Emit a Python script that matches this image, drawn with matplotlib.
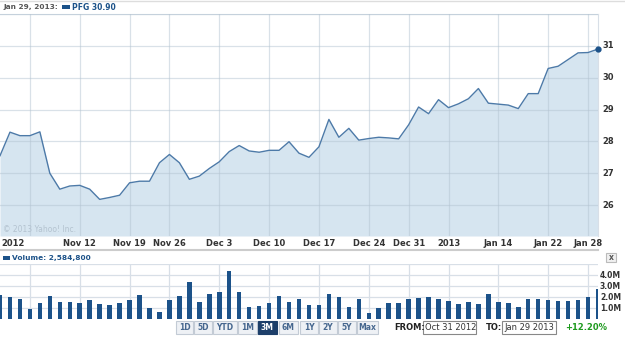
import numpy as np
import matplotlib

matplotlib.use("Agg")
import matplotlib.pyplot as plt
from matplotlib.patches import Rectangle

W, H = 625, 337

# trading days Oct 31 2012 .. Jan 29 2013 (index = trading day)
close = [27.55, 28.29, 28.18, 28.18, 28.30, 27.00, 26.50, 26.60, 26.62, 26.50,
         26.18, 26.24, 26.31, 26.70, 26.75, 26.75, 27.33, 27.59, 27.33, 26.81,
         26.91, 27.15, 27.36, 27.68, 27.87, 27.70, 27.66, 27.72, 27.72, 27.99,
         27.63, 27.50, 27.83, 28.69, 28.13, 28.41, 28.04, 28.09, 28.13, 28.11,
         28.08, 28.52, 29.08, 28.87, 29.31, 29.06, 29.18, 29.34, 29.66, 29.20,
         29.17, 29.14, 29.03, 29.50, 29.50, 30.29, 30.36, 30.57, 30.78, 30.79,
         30.90]
volume_m = [2.19, 1.98, 1.82, 0.90, 1.45, 2.13, 1.55, 1.55, 1.48, 1.73,
            1.36, 1.27, 1.48, 1.73, 2.19, 1.02, 0.68, 1.73, 2.13, 3.40,
            1.55, 2.29, 2.44, 4.35, 2.50, 1.11, 1.17, 1.45, 2.13, 1.55,
            1.85, 1.27, 1.27, 2.29, 1.98, 1.05, 1.79, 0.59, 0.99, 1.45,
            1.45, 1.85, 1.92, 1.98, 1.85, 1.61, 1.33, 1.52, 1.33, 2.26,
            1.55, 1.42, 1.08, 1.79, 1.85, 1.70, 1.64, 1.64, 1.70, 1.98,
            2.75]
tick_idx = [3, 8, 13, 17, 22, 27, 32, 37, 41, 45, 50, 55, 59]
tick_lbl = ["", "Nov 12", "Nov 19", "Nov 26", "Dec 3", "Dec 10", "Dec 17",
            "Dec 24", "Dec 31", "2013", "Jan 14", "Jan 22", "Jan 28"]
price_ticks = [26, 27, 28, 29, 30, 31]
vol_ticks = [1, 2, 3, 4]
ranges = ["1D", "5D", "YTD", "1M", "3M", "6M", "1Y", "2Y", "5Y", "Max"]

LINE = "#4d7aa8"
FILL = "#d6e5f0"
BAR = "#1c5289"
GRID = "#d8dfe7"
LBL = "#333333"


def fx(x):
    return x / W


def fy(y):
    return 1 - y / H


def box(x0, y0, x1, y1, **kw):
    fig.patches.append(Rectangle((fx(x0), fy(y1)), fx(x1) - fx(x0), fy(y0) - fy(y1),
                                 transform=fig.transFigure, **kw))


fig = plt.figure(figsize=(W / 100, H / 100), dpi=100)
x = np.arange(len(close))

# price panel
ax = fig.add_axes([fx(0), fy(236), fx(598), fy(14) - fy(236)])
ax.fill_between(x, close, 25.03, color=FILL, lw=0, zorder=1)
ax.plot(x, close, color=LINE, lw=1.0, zorder=3)
ax.plot(x[-1], close[-1], "o", color="#1c5289", ms=3.5, zorder=4, clip_on=False)
ax.set_xlim(0, len(close) - 1)
ax.set_ylim(25.03, 32.0)
ax.set_yticks(price_ticks + [32])
ax.set_xticks(tick_idx)
ax.grid(True, color="#b4c4d2", alpha=0.5, lw=0.9, zorder=2)
ax.set_axisbelow(False)
ax.tick_params(length=0, labelleft=False, labelbottom=False)
for s in ax.spines.values():
    s.set_color(GRID)
ax.spines["left"].set_visible(False)
ax.spines["bottom"].set_visible(False)
for v in price_ticks:
    fig.text(fx(602), fy(46 + (31 - v) * 31.8), str(v), fontsize=6, weight="bold",
             color=LBL, va="center", ha="left")
for i, t in zip(tick_idx, tick_lbl):
    fig.text(fx(i * 598 / 60), fy(244), t, fontsize=6, weight="bold", color=LBL,
             ha="center", va="center")
fig.text(fx(1), fy(244), "2012", fontsize=6, weight="bold", color=LBL, ha="left", va="center")
fig.text(fx(3), fy(229), "\u00a9 2013 Yahoo! Inc.", fontsize=5.5, color="#b4c3d0",
         ha="left", va="center")

# header
fig.lines.append(plt.Line2D([0, 1], [fy(1), fy(1)], transform=fig.transFigure,
                            color="#dddddd", lw=1))
fig.text(fx(3), fy(7.5), "Jan 29, 2013:", fontsize=5.3, weight="bold", color="#555555",
         ha="left", va="center")
box(62, 5, 70, 9, color="#1c5289", lw=0)
fig.text(fx(72), fy(7.5), "PFG 30.90", fontsize=5.5, weight="bold", color="#1c5289",
         ha="left", va="center")

# separator and volume header
fig.lines.append(plt.Line2D([0, fx(598)], [fy(250), fy(250)], transform=fig.transFigure,
                            color="#cccccc", lw=1.5))
box(3, 256, 10, 260, color="#1c5289", lw=0)
fig.text(fx(12), fy(258), "Volume: 2,584,800", fontsize=5.3, weight="bold", color="#1c5289",
         ha="left", va="center")
box(606, 253, 616, 262, facecolor="#f0f0f0", edgecolor="#bbbbbb", lw=0.8)
fig.text(fx(611), fy(257.5), "x", fontsize=5.5, weight="bold", color="#555555",
         ha="center", va="center")

# volume panel
av = fig.add_axes([fx(0), fy(319), fx(598), fy(264) - fy(319)])
av.bar(x, volume_m, width=0.45, color=BAR, zorder=3)
av.set_xlim(0, len(close) - 1)
av.set_ylim(0, 5)
av.set_yticks(vol_ticks + [5])
av.set_xticks(tick_idx)
av.grid(True, color=GRID, lw=0.9, zorder=1)
av.tick_params(length=0, labelleft=False, labelbottom=False)
for s in av.spines.values():
    s.set_visible(False)
for v in vol_ticks:
    fig.text(fx(600), fy(319 - v * 10.9), f"{v:.1f}M", fontsize=5.5, weight="bold",
             color=LBL, ha="left", va="center")

# range buttons and date boxes
bx = [(176, 193), (194, 212), (213, 237), (238, 257), (258, 277), (279, 298),
      (300, 318), (319, 337), (338, 356), (357, 378)]
for (a, b), r in zip(bx, ranges):
    sel = r == "3M"
    box(a, 321, b, 334, facecolor="#1d3f6a" if sel else "#eef1f5",
        edgecolor="#1d3f6a" if sel else "#c3cbd5", lw=0.8)
    fig.text(fx((a + b) / 2), fy(327.5), r, fontsize=5.5, weight="bold",
             color="white" if sel else "#46678f", ha="center", va="center")
fig.text(fx(394), fy(327.5), "FROM:", fontsize=6, weight="bold", color="#222222",
         ha="left", va="center")
box(423, 321, 476, 334, facecolor="white", edgecolor="#888888", lw=0.8)
fig.text(fx(425), fy(327.5), "Oct 31 2012", fontsize=6, color="#333333", ha="left", va="center")
fig.text(fx(486), fy(327.5), "TO:", fontsize=6, weight="bold", color="#222222",
         ha="left", va="center")
box(502, 321, 556, 334, facecolor="white", edgecolor="#888888", lw=0.8)
fig.text(fx(504), fy(327.5), "Jan 29 2013", fontsize=6, color="#333333", ha="left", va="center")
fig.text(fx(565), fy(327.5), "+12.20%", fontsize=6, weight="bold", color="#1e9a1e",
         ha="left", va="center")

fig.savefig("out.png", dpi=100)
